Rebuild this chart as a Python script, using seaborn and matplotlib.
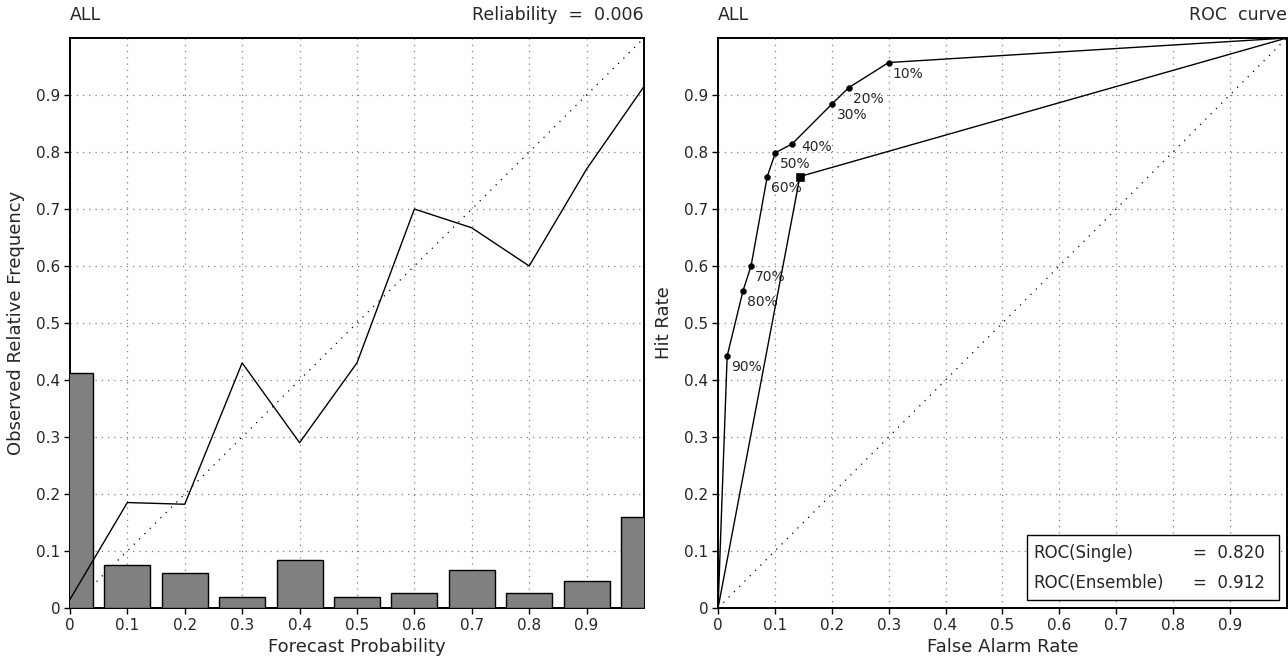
import matplotlib
matplotlib.use("Agg")
import matplotlib.pyplot as plt
import matplotlib.patches as mpatches
import numpy as np
import pandas as pd
import seaborn as sns

sns.set_style("ticks")
plt.rcParams['font.family'] = ['DejaVu Sans']

# reliability diagram data
forecast_prob = [0.0, 0.1, 0.2, 0.3, 0.4, 0.5, 0.6, 0.7, 0.8, 0.9, 1.0]
observed_freq = [0.015, 0.185, 0.182, 0.43, 0.29, 0.43, 0.70, 0.667, 0.60, 0.77, 0.915]
bin_freq = [0.413, 0.075, 0.061, 0.019, 0.085, 0.019, 0.027, 0.066, 0.027, 0.047, 0.16]
reliability = 0.006

# ROC data (ensemble thresholds)
thresholds = ['10%', '20%', '30%', '40%', '50%', '60%', '70%', '80%', '90%']
far_ens = [0.300, 0.230, 0.201, 0.130, 0.101, 0.0865, 0.058, 0.044, 0.016]
hr_ens = [0.957, 0.913, 0.885, 0.814, 0.799, 0.757, 0.600, 0.557, 0.442]
far_single = 0.144
hr_single = 0.757
roc_single = 0.820
roc_ensemble = 0.912

tick_vals = [0, 0.1, 0.2, 0.3, 0.4, 0.5, 0.6, 0.7, 0.8, 0.9]
tick_labels = ['0', '0.1', '0.2', '0.3', '0.4', '0.5', '0.6', '0.7', '0.8', '0.9']

fig = plt.figure(figsize=(12.88, 6.6), dpi=100)
ax1 = fig.add_axes([0.0543, 0.0788, 0.4457, 0.8636])
ax2 = fig.add_axes([0.5575, 0.0788, 0.4415, 0.8636])


def style_axes(ax):
    ax.set_xlim(0, 1)
    ax.set_ylim(0, 1)
    ax.set_xticks(tick_vals)
    ax.set_xticklabels(tick_labels, fontsize=11)
    ax.set_yticks(tick_vals)
    ax.set_yticklabels(tick_labels, fontsize=11)
    ax.grid(True, linestyle=(0, (1, 4)), color='gray', linewidth=0.9)
    ax.set_axisbelow(True)
    ax.tick_params(length=4, width=1, color='black', pad=3)
    for sp in ax.spines.values():
        sp.set_visible(True)
        sp.set_color('black')
        sp.set_linewidth(1.4)
    # perfect reliability / no-skill diagonal
    ax.plot([0, 1], [0, 1], linestyle=(0, (1, 5)), color='black', linewidth=0.9, zorder=2)


# ---------- left: reliability diagram ----------
rel = pd.DataFrame({'prob': forecast_prob, 'obs': observed_freq, 'freq': bin_freq})
sns.barplot(data=rel, x='prob', y='freq', native_scale=True, orient='x', width=0.8,
            color='#808080', saturation=1, edgecolor='black', linewidth=1.0,
            errorbar=None, ax=ax1, zorder=3)
sns.lineplot(data=rel, x='prob', y='obs', color='black', linewidth=1.0, ax=ax1, zorder=4)
style_axes(ax1)
ax1.set_xlabel('Forecast Probability', fontsize=13, labelpad=4)
ax1.set_ylabel('Observed Relative Frequency', fontsize=13, labelpad=8)
ax1.text(0.0, 1.025, 'ALL', transform=ax1.transAxes, fontsize=12.5, ha='left', va='bottom')
ax1.text(1.0, 1.025, f'Reliability  =  {reliability:.3f}', transform=ax1.transAxes,
         fontsize=12.5, ha='right', va='bottom')

# ---------- right: ROC curve ----------
ens_curve = pd.DataFrame({'far': [1.0] + far_ens + [0.0], 'hr': [1.0] + hr_ens + [0.0]})
single_curve = pd.DataFrame({'far': [0.0, far_single, 1.0], 'hr': [0.0, hr_single, 1.0]})
sns.lineplot(data=ens_curve, x='far', y='hr', sort=False, color='black', linewidth=1.0,
             ax=ax2, zorder=4)
sns.lineplot(data=single_curve, x='far', y='hr', sort=False, color='black', linewidth=1.0,
             ax=ax2, zorder=4)
sns.scatterplot(x=far_ens, y=hr_ens, color='black', s=18, marker='o', edgecolor='black',
                ax=ax2, zorder=5)
sns.scatterplot(x=[far_single], y=[hr_single], color='black', s=30, marker='s',
                edgecolor='black', ax=ax2, zorder=5)
for lab, fx, hy in zip(thresholds, far_ens, hr_ens):
    # the 40% label sits to the right of its point, the others just below-right
    offset = (7, -2) if lab == '40%' else (3, -8)
    ax2.annotate(lab, (fx, hy), xytext=offset, textcoords='offset points',
                 fontsize=10, ha='left', va='center')
style_axes(ax2)
ax2.set_xlabel('False Alarm Rate', fontsize=13, labelpad=4)
ax2.set_ylabel('Hit Rate', fontsize=13, labelpad=8)
ax2.text(0.0, 1.025, 'ALL', transform=ax2.transAxes, fontsize=12.5, ha='left', va='bottom')
ax2.text(1.0, 1.025, 'ROC  curve', transform=ax2.transAxes, fontsize=12.5, ha='right', va='bottom')

box = mpatches.Rectangle((0.543, 0.014), 0.443, 0.114, transform=ax2.transAxes,
                         facecolor='white', edgecolor='black', linewidth=1.0, zorder=6)
ax2.add_patch(box)
ax2.text(0.555, 0.097, 'ROC(Single)', transform=ax2.transAxes, fontsize=12,
         ha='left', va='center', zorder=7)
ax2.text(0.555, 0.044, 'ROC(Ensemble)', transform=ax2.transAxes, fontsize=12,
         ha='left', va='center', zorder=7)
ax2.text(0.835, 0.097, f'=  {roc_single:.3f}', transform=ax2.transAxes, fontsize=12,
         ha='left', va='center', zorder=7)
ax2.text(0.835, 0.044, f'=  {roc_ensemble:.3f}', transform=ax2.transAxes, fontsize=12,
         ha='left', va='center', zorder=7)

fig.savefig('out.png', dpi=100)
